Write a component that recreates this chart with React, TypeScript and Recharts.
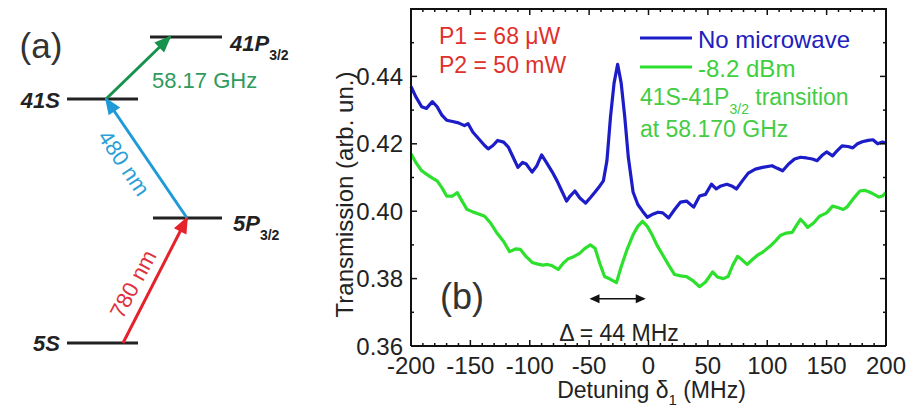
import React from 'react';
import { ComposedChart, Line, XAxis, YAxis, Scatter, Legend } from 'recharts';

const FONT = '"Liberation Sans", Arial, Helvetica, sans-serif';

// ---------------- panel (b) data ----------------
const blueDetuning = [-200,-196,-191,-187,-182,-178,-174,-170,-165,-160,-155,-152,-148,-143,-138,-135,-131,-127,-122,-118,-114,-110,-106,-103,-98,-94,-90,-86,-81,-77,-73,-69,-66,-62,-58,-53,-49,-45,-41,-38,-35,-32,-29,-26,-23,-20,-17,-13,-9,-5,-1,3,8,12,17,22,27,32,38,43,48,53,57,61,66,70,74,79,84,90,96,104,108,113,118,123,128,133,138,142,146,150,155,159,163,168,172,176,180,185,189,193,197,200];
const blueTransmission = [0.437,0.434,0.431,0.4305,0.4325,0.431,0.4285,0.427,0.4266,0.4262,0.4254,0.426,0.4235,0.4215,0.4195,0.4185,0.4195,0.421,0.4205,0.419,0.416,0.413,0.4145,0.414,0.4116,0.4135,0.4167,0.4145,0.4116,0.409,0.406,0.403,0.4045,0.406,0.404,0.4024,0.404,0.4057,0.4075,0.409,0.415,0.428,0.438,0.4436,0.438,0.428,0.416,0.4057,0.402,0.4,0.3982,0.399,0.3997,0.3995,0.398,0.4005,0.4027,0.403,0.4012,0.4045,0.405,0.408,0.4066,0.4075,0.408,0.4075,0.4066,0.409,0.4113,0.4125,0.413,0.4135,0.4128,0.412,0.414,0.4155,0.416,0.4158,0.4155,0.415,0.4165,0.4176,0.4164,0.418,0.4194,0.4192,0.4188,0.42,0.4206,0.421,0.4212,0.42,0.4205,0.4203];

const greenDetuning = [-200,-196,-191,-187,-182,-178,-174,-170,-165,-161,-157,-153,-148,-143,-138,-133,-128,-122,-117,-112,-108,-103,-98,-93,-89,-85,-81,-76,-72,-68,-63,-58,-54,-49,-45,-41,-37,-32,-27,-23,-18,-13,-9,-5,-1,3,7,12,17,22,27,32,37,43,48,54,58,63,67,71,75,79,83,88,92,96,102,107,111,116,121,125,128,131,134,139,144,150,155,160,164,167,172,178,182,186,190,194,197,200];
const greenTransmission = [0.417,0.4145,0.412,0.411,0.4098,0.409,0.407,0.4045,0.4045,0.4055,0.403,0.4006,0.3998,0.3992,0.3985,0.3965,0.3937,0.391,0.388,0.3888,0.3887,0.3865,0.3848,0.3843,0.384,0.3842,0.3838,0.3827,0.3845,0.3858,0.3865,0.3875,0.3888,0.39,0.389,0.3845,0.3806,0.3798,0.3788,0.3835,0.3887,0.393,0.3955,0.397,0.3955,0.393,0.39,0.387,0.384,0.3812,0.3808,0.3806,0.3795,0.3776,0.379,0.382,0.3805,0.38,0.3806,0.384,0.3866,0.3855,0.3842,0.3858,0.387,0.3878,0.3895,0.3912,0.3928,0.3935,0.3937,0.396,0.3976,0.3965,0.3952,0.3965,0.3985,0.3995,0.4015,0.401,0.4005,0.4012,0.4035,0.406,0.4062,0.4057,0.405,0.4042,0.4045,0.4056];

const seriesNames = ['No microwave', '-8.2 dBm'];
const seriesColors = ['#1c1cc8', '#2ee02e'];
const legendTextColors = ['#2020c0', '#3cd03c'];

const xTickValues = [-200,-190,-180,-170,-160,-150,-140,-130,-120,-110,-100,-90,-80,-70,-60,-50,-40,-30,-20,-10,0,10,20,30,40,50,60,70,80,90,100,110,120,130,140,150,160,170,180,190,200];
const xTickLabels = ['-200','-150','-100','-50','0','50','100','150','200'];
const yTickValues = [0.36,0.37,0.38,0.39,0.40,0.41,0.42,0.43,0.44,0.45,0.46];
const yTickLabels = ['0.36','0.38','0.40','0.42','0.44'];
const xDomain = [-200, 200];
const yDomain = [0.36, 0.46];

// the "Δ = 44 MHz" marker span (MHz) and its level (transmission)
const deltaSpan = [-48, -4];
const deltaLevel = 0.374;

// text annotations in data coordinates (detuning, transmission)
const notes = [
  { x: -176.4, y: 0.4519, text: 'P1 = 68 \u03bcW', color: '#e0302c', size: 23, anchor: 'start' },
  { x: -176.4, y: 0.4433, text: 'P2 = 50 mW', color: '#e0302c', size: 23, anchor: 'start' },
  { x: -7.2, y: 0.434, text: '41S-41P', sub: '3/2', after: ' transition', color: '#44cc44', size: 23, anchor: 'start' },
  { x: -7.2, y: 0.4245, text: 'at 58.170 GHz', color: '#44cc44', size: 23, anchor: 'start' },
  { x: -157, y: 0.3746, text: '(b)', color: '#333333', size: 36, anchor: 'middle' },
  { x: -24.8, y: 0.3639, text: '\u0394 = 44 MHz', color: '#222222', size: 23, anchor: 'middle' },
];

// ---------------- panel (a) level diagram data (diagram units) ----------------
const levelNames = ['5S', '5P', '41S', '41P'];
const levelStart = [67, 153, 67, 150];
const levelEnd = [138, 222, 138, 222];
const levelEnergy = [343, 218, 99, 37];

const arrowNames = ['780 nm', '480 nm', '58.17 GHz'];
const arrowColors = ['#e5212b', '#1e9bd7', '#17924c'];
const arrowFromX = [123, 187, 106];
const arrowFromY = [343, 218, 99];
const arrowToX = [187, 106, 170];
const arrowToY = [218, 99, 37];

const diagramLabels = [
  { x: 41, y: 46, text: '(a)', color: '#333333', size: 35, anchor: 'middle', weight: 'normal', italic: false, angle: 0 },
  { x: 230, y: 43, text: '41P', sub: '3/2', color: '#222222', size: 22, anchor: 'start', weight: 'bold', italic: true, angle: 0 },
  { x: 60, y: 100, text: '41S', color: '#222222', size: 22, anchor: 'end', weight: 'bold', italic: true, angle: 0 },
  { x: 233, y: 223, text: '5P', sub: '3/2', color: '#222222', size: 22, anchor: 'start', weight: 'bold', italic: true, angle: 0 },
  { x: 60, y: 343, text: '5S', color: '#222222', size: 22, anchor: 'end', weight: 'bold', italic: true, angle: 0 },
  { x: 152, y: 80, text: '58.17 GHz', color: '#2e9a5c', size: 22, anchor: 'start', weight: 'normal', italic: false, angle: 0 },
  { x: 124, y: 163, text: '480 nm', color: '#2a9fd8', size: 22, anchor: 'middle', weight: 'normal', italic: false, angle: 56 },
  { x: 133, y: 284, text: '780 nm', color: '#e0303c', size: 22, anchor: 'middle', weight: 'normal', italic: false, angle: -62 },
];

// ---------------- layout (pixels) ----------------
const CHART_W = 910;
const CHART_H = 412;
const MARGIN = { top: 9, right: 24, bottom: 36, left: 351 };
const XAXIS_H = 30;
const YAXIS_W = 60;
const PLOT_W = CHART_W - MARGIN.left - MARGIN.right - YAXIS_W;
const PLOT_H = CHART_H - MARGIN.top - MARGIN.bottom - XAXIS_H;

// ---------------- derived tables ----------------
const blueData = blueDetuning.map((x, i) => ({ x, y: blueTransmission[i] }));
const greenData = greenDetuning.map((x, i) => ({ x, y: greenTransmission[i] }));
const deltaData = deltaSpan.map((x) => ({ x, y: deltaLevel }));

const levelData = levelNames.map((name, i) => ({
  name,
  points: [{ x: levelStart[i], y: levelEnergy[i] }, { x: levelEnd[i], y: levelEnergy[i] }],
}));
const arrowData = arrowNames.map((name, i) => ({
  name,
  color: arrowColors[i],
  points: [{ x: arrowFromX[i], y: arrowFromY[i] }, { x: arrowToX[i], y: arrowToY[i] }],
}));

// ---------------- helpers ----------------
function arrowHead(cx: number, cy: number, ux: number, uy: number, L: number, W: number, color: string, key: string) {
  const tx = cx + ux * 2, ty = cy + uy * 2;
  const bx = tx - ux * L, by = ty - uy * L;
  const nx = -uy, ny = ux;
  const pts = `${tx},${ty} ${bx + nx * W},${by + ny * W} ${bx - nx * W},${by - ny * W}`;
  return <polygon key={key} points={pts} fill={color} stroke="none" />;
}

const makeDiagramArrowDot = (a: any) => (props: any) => {
  const { cx, cy, index } = props;
  if (index !== 1 || cx == null) return <g key={`d${index}`} />;
  const dx = a.points[1].x - a.points[0].x;
  const dy = a.points[1].y - a.points[0].y;
  const len = Math.hypot(dx, dy);
  return arrowHead(cx, cy, dx / len, dy / len, 17, 7, a.color, `h${index}`);
};

const deltaDot = (props: any) => {
  const { cx, cy, index } = props;
  if (cx == null) return <g key={`e${index}`} />;
  const ux = index === 0 ? -1 : 1;
  return arrowHead(cx, cy, ux, 0, 10, 4.5, '#111', `e${index}`);
};

const renderNote = (props: any) => {
  const { cx, cy, payload } = props;
  return (
    <text x={cx} y={cy} dy="0.35em" textAnchor={payload.anchor} fontSize={payload.size} fill={payload.color} fontFamily={FONT}>
      {payload.text}
      {payload.sub ? <tspan dy={9} fontSize={14}>{payload.sub}</tspan> : null}
      {payload.after ? <tspan dy={-9} fontSize={payload.size}>{payload.after}</tspan> : null}
    </text>
  );
};

const renderDiagramLabel = (props: any) => {
  const { cx, cy, payload } = props;
  return (
    <text
      x={cx}
      y={cy}
      dy="0.35em"
      textAnchor={payload.anchor}
      fontSize={payload.size}
      fill={payload.color}
      fontFamily={FONT}
      fontWeight={payload.weight}
      fontStyle={payload.italic ? 'italic' : 'normal'}
      transform={payload.angle ? `rotate(${payload.angle} ${cx} ${cy})` : undefined}
    >
      {payload.text}
      {payload.sub ? <tspan dy={9} fontSize={14} fontStyle="normal">{payload.sub}</tspan> : null}
    </text>
  );
};

// bottom-axis tick: inward tick, label, mirrored tick on the top edge, and the top/right frame edges
const XTick = (props: any) => {
  const { x, y, payload } = props;
  const v = payload.value;
  const label = xTickLabels.find((l) => Number(l) === v);
  const len = label ? 6 : 3;
  const top = y - PLOT_H;
  return (
    <g>
      <line x1={x} y1={y} x2={x} y2={y - len} stroke="#111" strokeWidth={1.5} />
      <line x1={x} y1={top} x2={x} y2={top + len} stroke="#111" strokeWidth={1.5} />
      {v === xDomain[0] ? <line x1={x - 1} y1={top} x2={x + PLOT_W + 1} y2={top} stroke="#111" strokeWidth={2} /> : null}
      {v === xDomain[1] ? <line x1={x} y1={y} x2={x} y2={top} stroke="#111" strokeWidth={2} /> : null}
      {label ? (
        <text x={x} y={y + 28} textAnchor="middle" fontSize={24} fill="#222" fontFamily={FONT}>{label}</text>
      ) : null}
    </g>
  );
};

// left-axis tick: inward tick, label, and mirrored tick on the right edge
const YTick = (props: any) => {
  const { x, y, payload } = props;
  const v = payload.value;
  const label = yTickLabels.find((l) => Math.abs(Number(l) - v) < 1e-6);
  const len = label ? 6 : 3;
  const right = x + PLOT_W;
  return (
    <g>
      <line x1={x} y1={y} x2={x + len} y2={y} stroke="#111" strokeWidth={1.5} />
      <line x1={right} y1={y} x2={right - len} y2={y} stroke="#111" strokeWidth={1.5} />
      {label ? (
        <text x={x - 8} y={y} dy="0.36em" textAnchor="end" fontSize={24} fill="#222" fontFamily={FONT}>{label}</text>
      ) : null}
    </g>
  );
};

const YLabel = (props: any) => {
  const vb = props.viewBox || { x: 351, y: 9, width: 60, height: 337 };
  const cx = vb.x - 6;
  const cy = vb.y + vb.height / 2 + 17;
  return (
    <text x={cx} y={cy} dy="0.35em" textAnchor="middle" fontSize={24} fill="#222" fontFamily={FONT} transform={`rotate(-90 ${cx} ${cy})`}>
      Transmission (arb. un.)
    </text>
  );
};

const XLabel = (props: any) => {
  const vb = props.viewBox || { x: 411, y: 346, width: 475, height: 30 };
  const cx = vb.x + vb.width / 2 + 3;
  const cy = vb.y + 44;
  return (
    <text x={cx} y={cy} dy="0.35em" textAnchor="middle" fontSize={23} fill="#222" fontFamily={FONT}>
      Detuning {'\u03b4'}
      <tspan dy={7} fontSize={15}>1</tspan>
      <tspan dy={-7}> (MHz)</tspan>
    </text>
  );
};

const LegendBox = (props: any) => {
  const items = (props.payload || []).filter((p: any) => seriesNames.includes(p.value));
  return (
    <svg width={260} height={60} style={{ display: 'block' }}>
      {items.map((it: any) => {
        const i = seriesNames.indexOf(it.value);
        const ly = 14 + i * 29;
        return (
          <g key={it.value}>
            <line x1={4} x2={56} y1={ly} y2={ly} stroke={seriesColors[i]} strokeWidth={3} />
            <text x={62} y={ly + 2} dy="0.35em" fontSize={24} fill={legendTextColors[i]} fontFamily={FONT}>{it.value}</text>
          </g>
        );
      })}
    </svg>
  );
};

const axisLine = { stroke: '#111', strokeWidth: 2 };

export default function App() {
  return (
    <div style={{ position: 'fixed', left: 0, top: 0, width: CHART_W, height: CHART_H, background: '#fff', overflow: 'hidden' }}>
      <div style={{ position: 'absolute', left: 0, top: 0, width: 300, height: CHART_H }}>
        <ComposedChart width={300} height={CHART_H} margin={{ top: 0, right: 0, bottom: 0, left: 0 }}>
          <XAxis type="number" dataKey="x" domain={[0, 300]} hide />
          <YAxis type="number" dataKey="y" domain={[0, 412]} reversed hide />
          {levelData.map((lv) => (
            <Line key={lv.name} data={lv.points} dataKey="y" name={lv.name} stroke="#222" strokeWidth={3}
              dot={false} activeDot={false} isAnimationActive={false} legendType="none" />
          ))}
          {arrowData.map((a) => (
            <Line key={a.name} data={a.points} dataKey="y" name={a.name} stroke={a.color} strokeWidth={3}
              dot={makeDiagramArrowDot(a)} activeDot={false} isAnimationActive={false} legendType="none" />
          ))}
          <Scatter data={diagramLabels} dataKey="y" name="labels" shape={renderDiagramLabel}
            isAnimationActive={false} legendType="none" />
        </ComposedChart>
      </div>
      <div style={{ position: 'absolute', left: 0, top: 0, width: CHART_W, height: CHART_H }}>
        <ComposedChart width={CHART_W} height={CHART_H} margin={MARGIN}>
          <XAxis type="number" dataKey="x" domain={xDomain} ticks={xTickValues} interval={0}
            tickSize={0} tickMargin={0} tickLine={false} tick={<XTick />} axisLine={axisLine}
            height={XAXIS_H} label={<XLabel />} />
          <YAxis type="number" dataKey="y" domain={yDomain} ticks={yTickValues} interval={0}
            tickSize={0} tickMargin={0} tickLine={false} tick={<YTick />} axisLine={axisLine}
            width={YAXIS_W} label={<YLabel />} />
          <Line data={greenData} dataKey="y" name={seriesNames[1]} stroke={seriesColors[1]}
            strokeWidth={3.2} dot={false} activeDot={false} isAnimationActive={false} type="linear" strokeLinejoin="round" />
          <Line data={blueData} dataKey="y" name={seriesNames[0]} stroke={seriesColors[0]}
            strokeWidth={3.2} dot={false} activeDot={false} isAnimationActive={false} type="linear" strokeLinejoin="round" />
          <Line data={deltaData} dataKey="y" name="delta" stroke="#111" strokeWidth={1.5}
            dot={deltaDot} activeDot={false} isAnimationActive={false} legendType="none" />
          <Scatter data={notes} dataKey="y" name="notes" shape={renderNote}
            isAnimationActive={false} legendType="none" />
          <Legend content={<LegendBox />} verticalAlign="middle" align="center" layout="horizontal"
            wrapperStyle={{ left: 636, top: 24, width: 260, height: 60 }} />
        </ComposedChart>
      </div>
    </div>
  );
}
